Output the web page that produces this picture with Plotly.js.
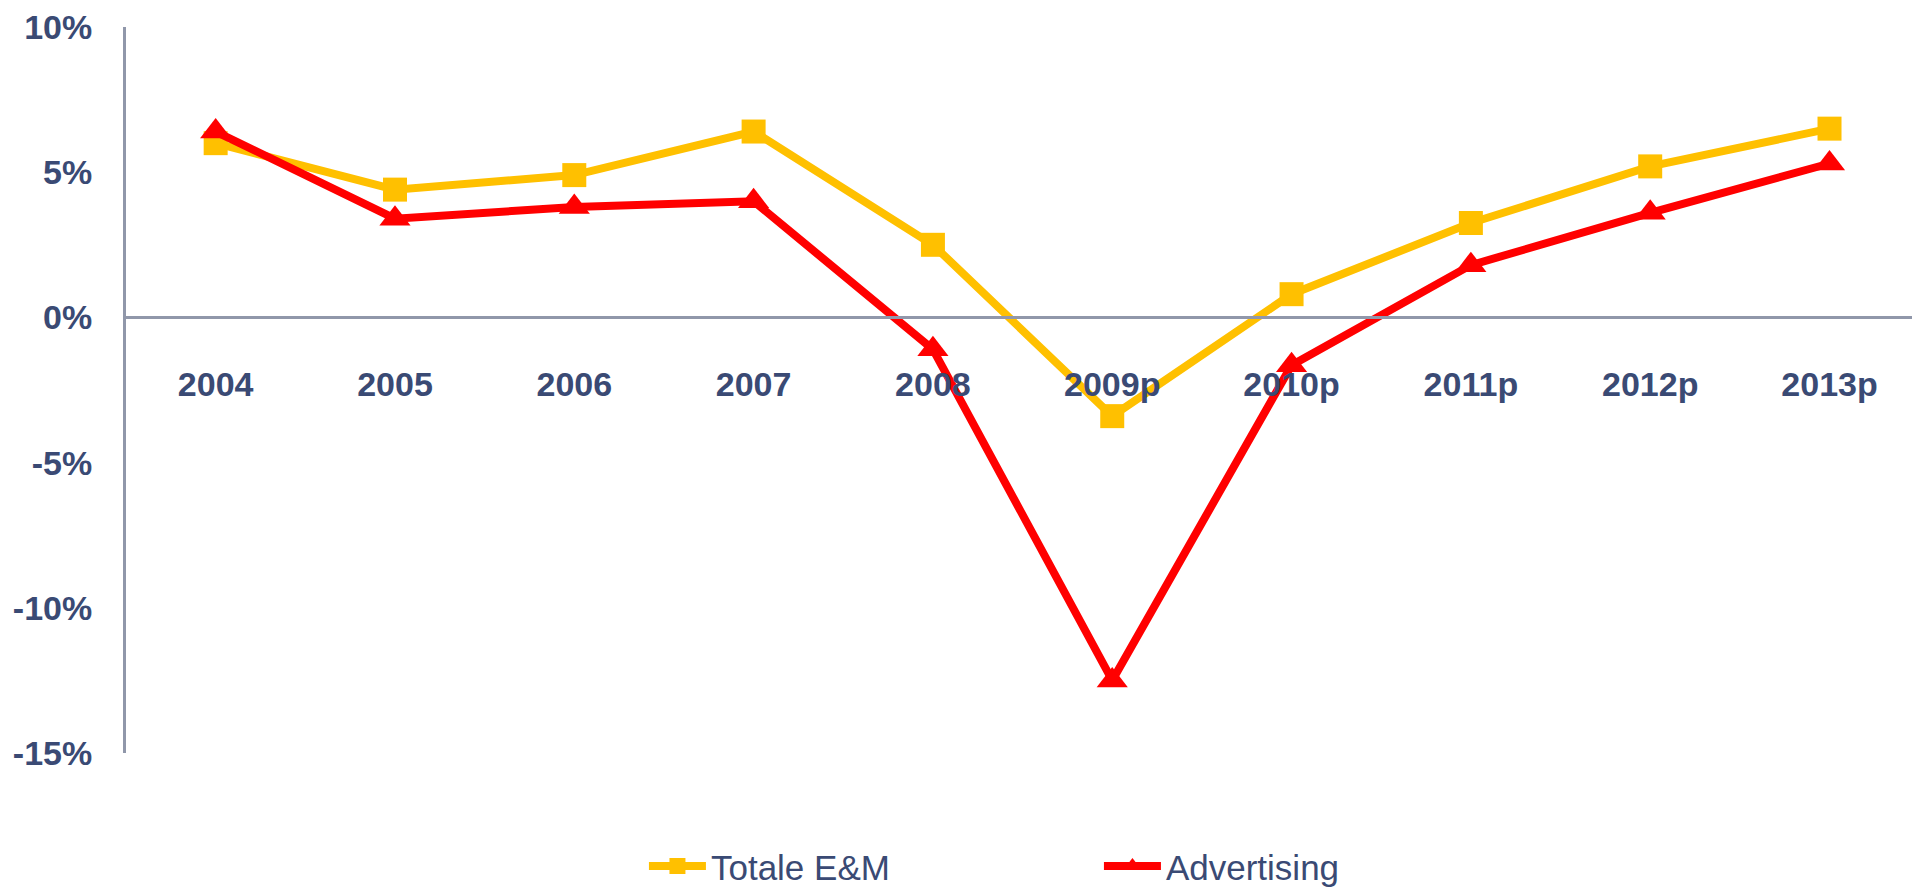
<!DOCTYPE html>
<html>
<head>
<meta charset="utf-8">
<script src="https://cdn.plot.ly/plotly-3.0.1.min.js"></script>
<style>html,body{margin:0;padding:0;background:#fff;}#chart{width:1912px;height:893px;}</style>
</head>
<body>
<div id="chart"></div>
<script>
const categories = ['2004','2005','2006','2007','2008','2009p','2010p','2011p','2012p','2013p'];
const totaleEM = [6.0, 4.4, 4.9, 6.4, 2.5, -3.4, 0.8, 3.25, 5.2, 6.5];
const advertising = [6.4, 3.4, 3.8, 4.0, -1.1, -12.5, -1.65, 1.8, 3.6, 5.3];
const yTickVals = [-15, -10, -5, 0, 5, 10];
const yTickLabels = ['-15%', '-10%', '-5%', '0%', '5%', '10%'];

const navy = '#3A4A74';
const axisGray = '#9097AA';
const tickFont = {family: 'Liberation Sans, Arial, sans-serif', size: 34, color: navy, weight: 'bold'};

const traces = [
  {
    x: categories, y: totaleEM, name: 'Totale E&M', type: 'scatter', mode: 'lines+markers',
    line: {color: '#FFC000', width: 8},
    marker: {symbol: 'square', size: 24, color: '#FFC000'}
  },
  {
    x: categories, y: advertising, name: 'Advertising', type: 'scatter', mode: 'lines+markers',
    line: {color: '#FF0000', width: 8},
    marker: {symbol: 'triangle-up', size: 27, color: '#FF0000'}
  }
];

const layout = {
  width: 1912, height: 893,
  margin: {l: 126, r: 0, t: 27, b: 140, autoexpand: false},
  paper_bgcolor: '#ffffff', plot_bgcolor: '#ffffff',
  showlegend: true,
  legend: {
    orientation: 'h', x: 0.29, xanchor: 'left', y: -0.156, yanchor: 'middle',
    font: {family: 'Liberation Sans, Arial, sans-serif', size: 35, color: navy},
    itemwidth: 57, entrywidth: 383, entrywidthmode: 'pixels', traceorder: 'normal'
  },
  xaxis: {
    type: 'category', range: [-0.5, 9.46],
    anchor: 'free', position: 0.6,
    showline: true, linecolor: axisGray, linewidth: 3,
    showgrid: false, zeroline: false, ticks: '',
    ticklabelstandoff: 36,
    tickfont: tickFont
  },
  yaxis: {
    range: [-15, 10],
    tickvals: yTickVals, ticktext: yTickLabels,
    showline: true, linecolor: axisGray, linewidth: 3,
    showgrid: false, zeroline: false, ticks: '',
    ticklabelstandoff: 24,
    tickfont: tickFont
  }
};

Plotly.newPlot('chart', traces, layout, {displayModeBar: false, staticPlot: true});
</script>
</body>
</html>
